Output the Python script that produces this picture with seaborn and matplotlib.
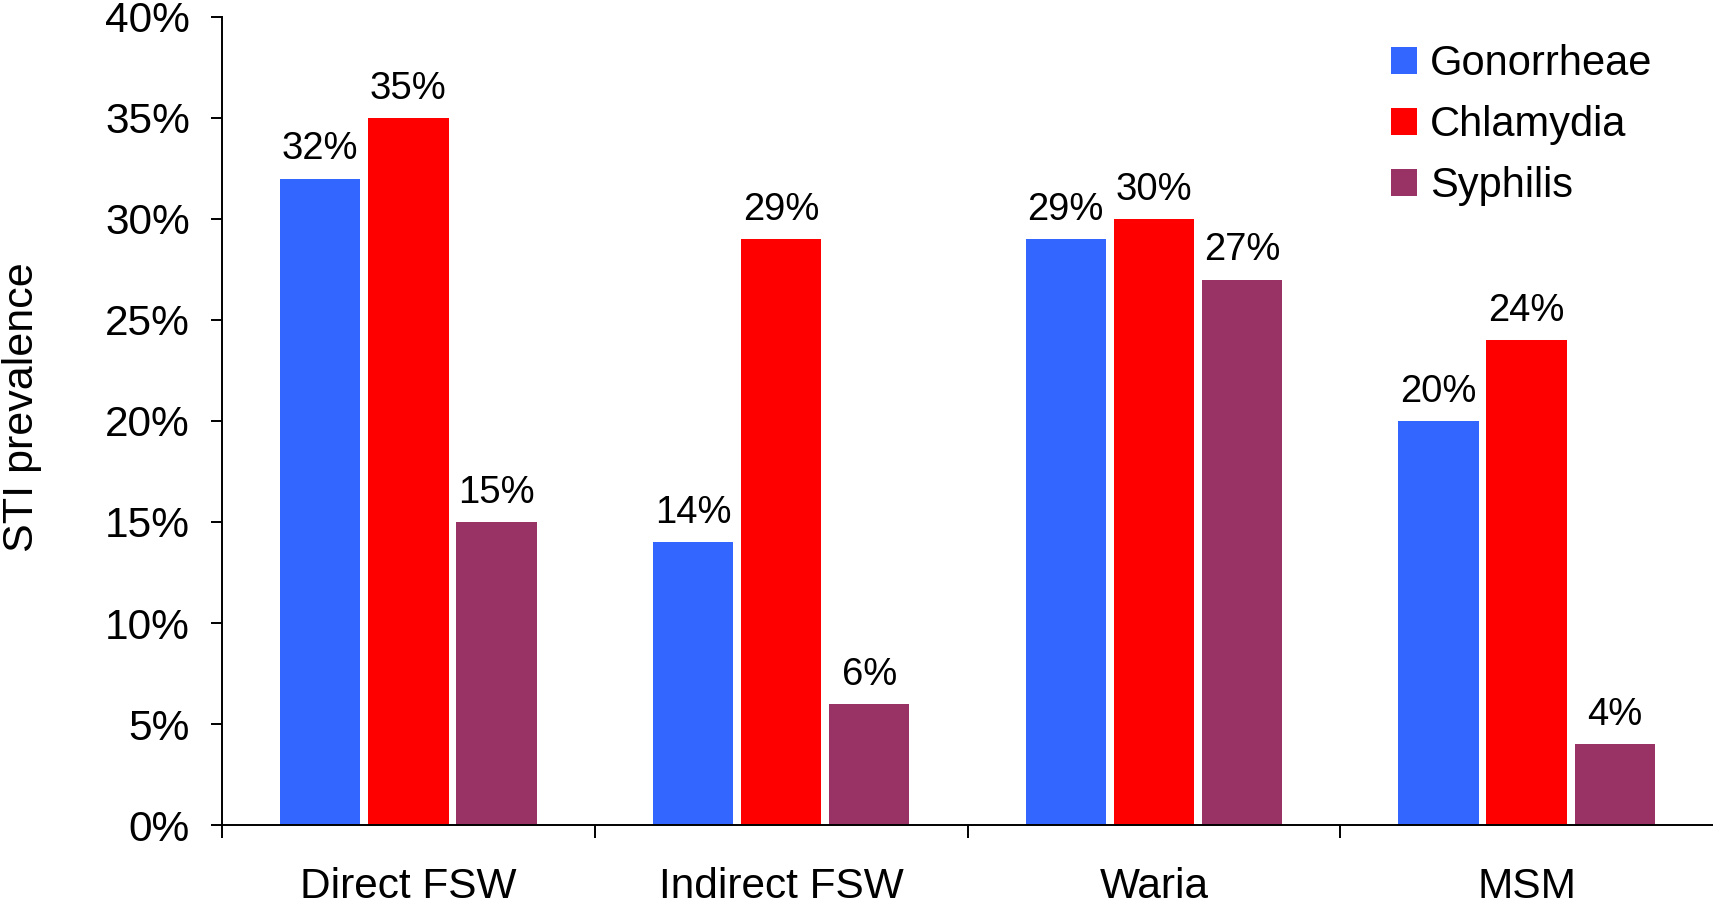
import pandas as pd
import matplotlib
matplotlib.use("Agg")
import matplotlib.pyplot as plt
import seaborn as sns
import numpy as np

sns.set_style("ticks", {"text.color": "black", "axes.labelcolor": "black",
                        "xtick.color": "black", "ytick.color": "black",
                        "axes.edgecolor": "black"})
plt.rcParams["font.family"] = ["Liberation Sans", "DejaVu Sans"]

# data (percent)
groups = ["Direct FSW", "Indirect FSW", "Waria", "MSM"]
infections = ["Gonorrheae", "Chlamydia", "Syphilis"]
gonorrheae = [32, 14, 29, 20]
chlamydia = [35, 29, 30, 24]
syphilis = [15, 6, 27, 4]
colors = ["#3366FF", "#FF0000", "#993366"]

df = pd.DataFrame({
    "group": groups * 3,
    "infection": np.repeat(infections, len(groups)),
    "value": gonorrheae + chlamydia + syphilis,
})

fig = plt.figure(figsize=(17.13, 9.08), dpi=100)
ax = fig.add_axes([0.1296, 0.0914, 0.8704, 0.8899])

sns.barplot(data=df, x="group", y="value", hue="infection", order=groups,
            hue_order=infections, palette=colors, width=0.71, gap=0.09,
            saturation=1, errorbar=None, linewidth=0, ax=ax)

# value labels above the bars
for cont in ax.containers:
    ax.bar_label(cont, fmt="{:.0f}%", padding=8, fontsize=27.5, color="black")

# axes styling
ax.set_ylim(0, 40)
ax.set_xlim(-0.5, 3.5)
ax.set_yticks(np.arange(0, 41, 5))
ax.yaxis.set_major_formatter(matplotlib.ticker.StrMethodFormatter("{x:.0f}%"))
ax.tick_params(axis="y", labelsize=30.5, length=8, width=1.4, pad=15, direction="out")
ax.set_xticks(range(len(groups)))
ax.set_xticklabels(groups)
ax.tick_params(axis="x", which="major", labelsize=30.5, length=0, pad=30)
ax.set_xticks(np.arange(-0.5, len(groups) - 0.5, 1), minor=True)
ax.tick_params(axis="x", which="minor", length=9, width=1.4, direction="out")
sns.despine(ax=ax)
for s in ["left", "bottom"]:
    ax.spines[s].set_linewidth(1.4)
    ax.spines[s].set_color("black")

ax.set_xlabel("")
ax.set_ylabel("STI prevalence", fontsize=31, color="black")
ax.yaxis.set_label_coords(-0.1207, 0.517)

handles, labels = ax.get_legend_handles_labels()
leg = ax.legend(handles, labels, frameon=False, fontsize=30, loc="upper left",
                bbox_to_anchor=(0.812, 0.951), bbox_transform=fig.transFigure,
                borderpad=0, borderaxespad=0, handlelength=0.63, handleheight=0.63,
                handletextpad=0.3, labelspacing=0.5)
for t in leg.get_texts():
    t.set_color("black")

plt.savefig("out.png", dpi=100)
